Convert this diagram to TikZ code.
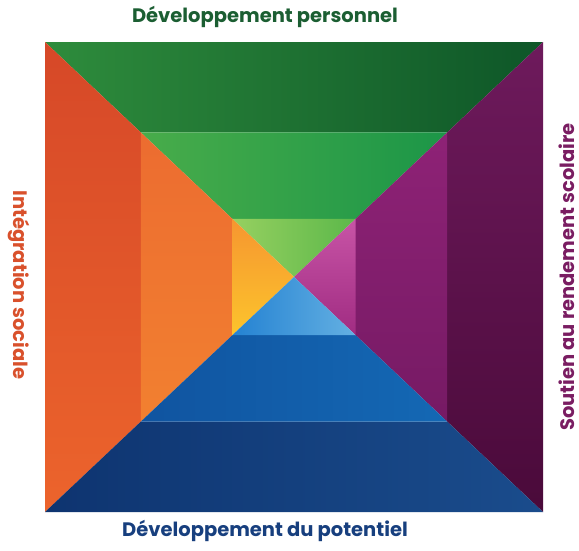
\documentclass[tikz,border=0pt]{standalone}
\usepackage{fontspec}
\setmainfont{Poppins}[BoldFont={* Bold}]
\usetikzlibrary{calc}
\definecolor{tgreen}{HTML}{1B5E32}
\definecolor{bblue}{HTML}{173F7E}
\definecolor{lorange}{HTML}{D9512C}
\definecolor{rpurple}{HTML}{7A1D62}
\tikzset{
  lbl/.style={font=\bfseries\fontsize{19.5}{22}\selectfont, inner sep=0pt},
}
\begin{document}
\begin{tikzpicture}[x=1pt,y=-1pt]
\useasboundingbox (0,0) rectangle (579,550);
\fill[white] (0,0) rectangle (579,550);
\coordinate (c) at (294,277);
\coordinate (TL) at (45,42);
\coordinate (TR) at (543,42);
\coordinate (BL) at (45,512);
\coordinate (BR) at (543,512);
\foreach \n/\s in {m/0.615,i/0.247}{
  \coordinate (\n TL) at ($(c)!\s!(TL)$);
  \coordinate (\n TR) at ($(c)!\s!(TR)$);
  \coordinate (\n BL) at ($(c)!\s!(BL)$);
  \coordinate (\n BR) at ($(c)!\s!(BR)$);
}
% top
\shade[left color={rgb,255:red,46;green,140;blue,60}, right color={rgb,255:red,14;green,86;blue,40}] (TL) -- (TR) -- (mTR) -- (mTL) -- cycle;
\shade[left color={rgb,255:red,72;green,172;blue,74}, right color={rgb,255:red,28;green,150;blue,72}] (mTL) -- (mTR) -- (iTR) -- (iTL) -- cycle;
\shade[left color={rgb,255:red,150;green,208;blue,96}, right color={rgb,255:red,92;green,184;blue,74}] (iTL) -- (iTR) -- (c) -- cycle;
% left
\shade[top color={rgb,255:red,214;green,72;blue,40}, bottom color={rgb,255:red,236;green,100;blue,44}] (TL) -- (mTL) -- (mBL) -- (BL) -- cycle;
\shade[top color={rgb,255:red,236;green,108;blue,48}, bottom color={rgb,255:red,242;green,128;blue,48}] (mTL) -- (iTL) -- (iBL) -- (mBL) -- cycle;
\shade[top color={rgb,255:red,246;green,150;blue,48}, bottom color={rgb,255:red,252;green,196;blue,44}] (iTL) -- (c) -- (iBL) -- cycle;
% right
\shade[top color={rgb,255:red,110;green,26;blue,92}, bottom color={rgb,255:red,74;green,10;blue,58}] (TR) -- (BR) -- (mBR) -- (mTR) -- cycle;
\shade[top color={rgb,255:red,142;green,34;blue,118}, bottom color={rgb,255:red,118;green,26;blue,100}] (mTR) -- (mBR) -- (iBR) -- (iTR) -- cycle;
\shade[top color={rgb,255:red,200;green,84;blue,166}, bottom color={rgb,255:red,160;green,44;blue,130}] (iTR) -- (iBR) -- (c) -- cycle;
% bottom
\shade[left color={rgb,255:red,14;green,52;blue,112}, right color={rgb,255:red,26;green,76;blue,140}] (BL) -- (BR) -- (mBR) -- (mBL) -- cycle;
\shade[left color={rgb,255:red,16;green,84;blue,160}, right color={rgb,255:red,20;green,104;blue,180}] (mBL) -- (mBR) -- (iBR) -- (iBL) -- cycle;
\shade[left color={rgb,255:red,36;green,130;blue,210}, right color={rgb,255:red,100;green,176;blue,226}] (iBL) -- (iBR) -- (c) -- cycle;
% labels
\node[lbl, text=tgreen] (top) at (265,17) {Développement personnel};
\node[lbl, text=bblue] (bot) at (265,531) {Développement du potentiel};
\node[lbl, text=lorange, rotate=-90] (left) at (19,285) {Intégration sociale};
\node[lbl, text=rpurple, rotate=90] (right) at (567,277) {Soutien au rendement scolaire};
\end{tikzpicture}
\end{document}
